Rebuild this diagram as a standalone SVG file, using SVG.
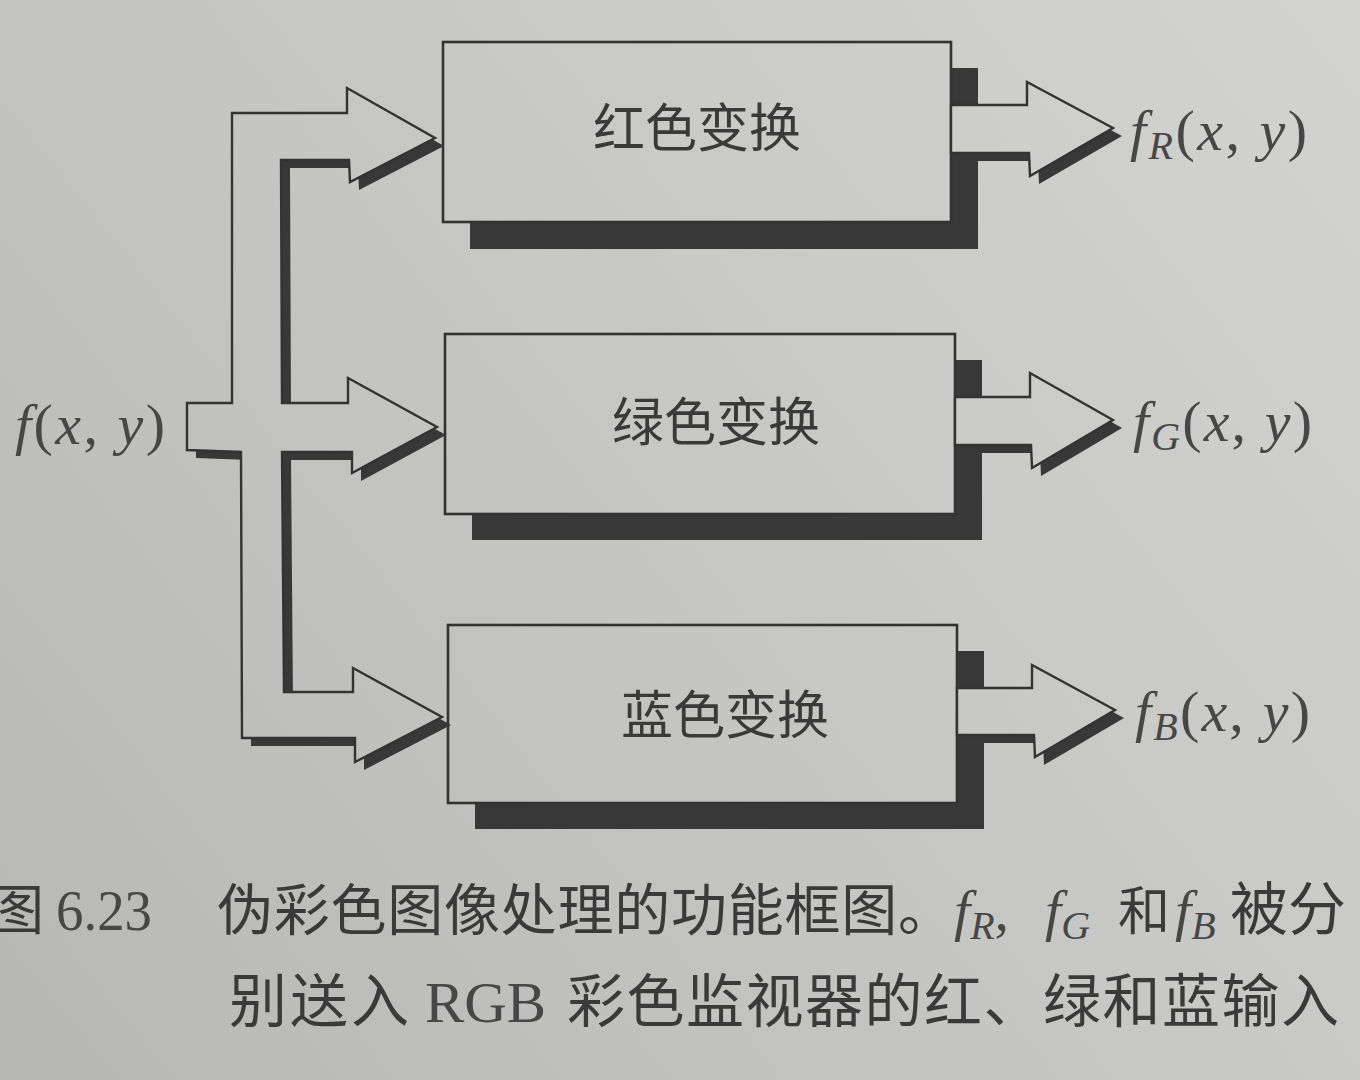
<svg xmlns="http://www.w3.org/2000/svg" width="1360" height="1080" viewBox="0 0 1360 1080">
<defs>
<linearGradient id="bg" gradientUnits="userSpaceOnUse" x1="1360" y1="0" x2="0" y2="1080">
<stop offset="0" stop-color="#d3d3d1"/>
<stop offset="0.5" stop-color="#c6c6c4"/>
<stop offset="1" stop-color="#b7b7b5"/>
</linearGradient>
<style>
.sh{fill:#383838;}
.bx{fill:url(#bg);stroke:#333;stroke-width:2.6;stroke-linejoin:miter;}
.ar{fill:url(#bg);stroke:#333;stroke-width:2.4;stroke-linejoin:miter;}
.cn{font-family:"Noto Sans CJK SC",sans-serif;fill:#3a3a3a;}
.lb{font-family:"Liberation Serif",serif;fill:#474747;}
.i{font-style:italic;}
</style>
</defs>
<rect x="0" y="0" width="1360" height="1080" fill="url(#bg)"/>

<g id="nodes">
<g id="node-red">
<rect class="sh" x="470" y="68" width="508" height="181"/>
<rect class="bx" x="443" y="42" width="508" height="180"/>
<text class="cn" x="697" y="147" font-size="52" text-anchor="middle">红色变换</text>
</g>
<g id="node-green">
<rect class="sh" x="472" y="360" width="510" height="180"/>
<rect class="bx" x="445" y="334" width="510" height="180"/>
<text class="cn" x="716" y="441" font-size="52" text-anchor="middle">绿色变换</text>
</g>
<g id="node-blue">
<rect class="sh" x="475" y="651" width="509" height="178"/>
<rect class="bx" x="448" y="625" width="509" height="178"/>
<text class="cn" x="725" y="734" font-size="52" text-anchor="middle">蓝色变换</text>
</g>
</g>

<g id="connectors">
<g id="input-arrow">
<polygon class="sh" transform="translate(9,8)" points="232,113 347,113 347,88 435,138 350,182 349,160 281,160 282,403 348,403 348,378 437,427 352,473 352,452 282,452 284,692 353,692 353,668 442,717 355,762 355,738 242,738 241,452 187,450 187,403 232,403"/>
<polygon class="ar" points="232,113 347,113 347,88 435,138 350,182 349,160 281,160 282,403 348,403 348,378 437,427 352,473 352,452 282,452 284,692 353,692 353,668 442,717 355,762 355,738 242,738 241,452 187,450 187,403 232,403"/>
</g>
<g id="out-red">
<polygon class="sh" transform="translate(9,8)" points="951,105 1027,105 1027,82 1113,128 1030,176 1029,153 951,153"/>
<polygon class="ar" points="951,105 1027,105 1027,82 1113,128 1030,176 1029,153 951,153"/>
</g>
<g id="out-green">
<polygon class="sh" transform="translate(9,8)" points="955,397 1030,397 1030,373 1113,420 1032,468 1031,445 955,445"/>
<polygon class="ar" points="955,397 1030,397 1030,373 1113,420 1032,468 1031,445 955,445"/>
</g>
<g id="out-blue">
<polygon class="sh" transform="translate(9,8)" points="957,688 1032,688 1032,665 1115,710 1035,757 1034,735 957,735"/>
<polygon class="ar" points="957,688 1032,688 1032,665 1115,710 1035,757 1034,735 957,735"/>
</g>
</g>

<g id="labels">
<text class="lb" x="15" y="444" font-size="58" textLength="150" lengthAdjust="spacing"><tspan class="i">f</tspan>(<tspan class="i">x</tspan>, <tspan class="i">y</tspan>)</text>
<text class="lb" x="1130" y="150" font-size="58" textLength="177" lengthAdjust="spacing"><tspan class="i">f</tspan><tspan class="i" font-size="40" dy="9">R</tspan><tspan dy="-9">(</tspan><tspan class="i">x</tspan>, <tspan class="i">y</tspan>)</text>
<text class="lb" x="1133" y="441" font-size="58" textLength="179" lengthAdjust="spacing"><tspan class="i">f</tspan><tspan class="i" font-size="40" dy="9">G</tspan><tspan dy="-9">(</tspan><tspan class="i">x</tspan>, <tspan class="i">y</tspan>)</text>
<text class="lb" x="1135" y="731" font-size="58" textLength="175" lengthAdjust="spacing"><tspan class="i">f</tspan><tspan class="i" font-size="40" dy="9">B</tspan><tspan dy="-9">(</tspan><tspan class="i">x</tspan>, <tspan class="i">y</tspan>)</text>
</g>

<g id="caption">
<text class="cn" x="-10" y="930" font-size="54">图</text>
<text class="lb" x="56" y="930" font-size="58" textLength="96" lengthAdjust="spacingAndGlyphs" fill="#3a3a3a">6.23</text>
<text class="cn" x="217" y="930" font-size="56" textLength="737" lengthAdjust="spacing">伪彩色图像处理的功能框图。</text>
<text class="lb" x="954" y="930" font-size="58" fill="#3a3a3a"><tspan class="i">f</tspan><tspan class="i" font-size="40" dy="9">R</tspan><tspan dy="-9">,</tspan></text>
<text class="lb" x="1045" y="930" font-size="58" fill="#3a3a3a"><tspan class="i">f</tspan><tspan class="i" font-size="40" dy="9">G</tspan></text>
<text class="cn" x="1118" y="930" font-size="52">和</text>
<text class="lb" x="1175" y="930" font-size="58" fill="#3a3a3a"><tspan class="i">f</tspan><tspan class="i" font-size="40" dy="9">B</tspan></text>
<text class="cn" x="1230" y="930" font-size="58">被分</text>
<text class="cn" x="229" y="1022" font-size="58" textLength="180" lengthAdjust="spacing">别送入</text>
<text class="lb" x="425" y="1022" font-size="58" textLength="121" lengthAdjust="spacingAndGlyphs" fill="#3a3a3a">RGB</text>
<text class="cn" x="567" y="1022" font-size="58" textLength="772" lengthAdjust="spacing">彩色监视器的红、绿和蓝输入</text>
</g>
</svg>
